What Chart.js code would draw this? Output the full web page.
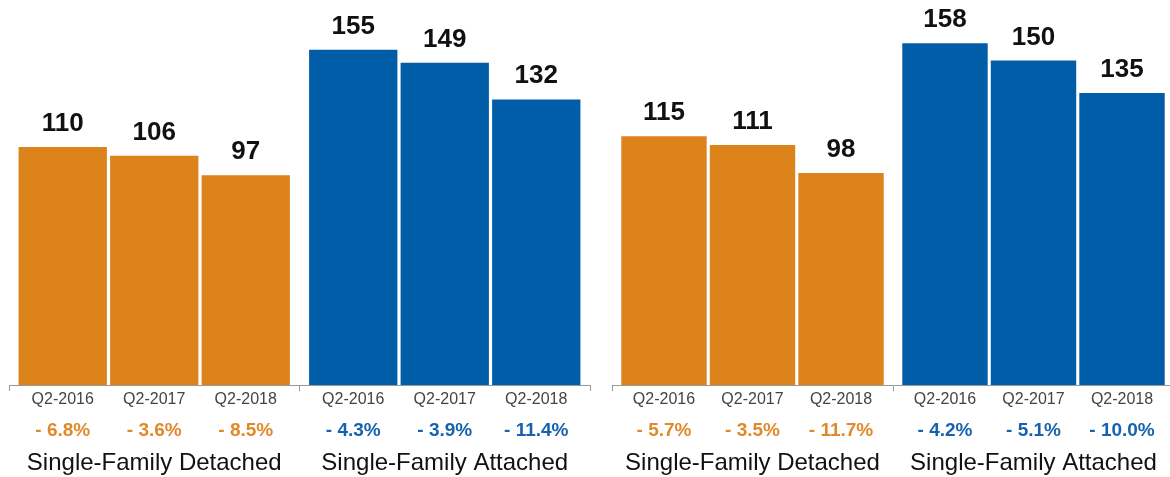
<!DOCTYPE html>
<html>
<head>
<meta charset="utf-8">
<script src="https://cdn.jsdelivr.net/npm/chart.js@4.4.1/dist/chart.umd.min.js"></script>
<style>
    html, body { margin: 0; padding: 0; background: #fff; }
    body { width: 1170px; height: 477px; overflow: hidden; position: relative; }
    .panel { position: absolute; top: 0; height: 477px; }
    #leftPanel { left: 0; width: 600px; }
    #rightPanel { left: 600px; width: 580px; }
</style>
</head>
<body>
<div class="panel" id="leftPanel"><canvas id="leftChart"></canvas></div>
<div class="panel" id="rightPanel"><canvas id="rightChart"></canvas></div>
<script>
// Housing types and the quarters compared in each panel
const categories = ['Single-Family Detached', 'Single-Family Attached'];
const quarters = ['Q2-2016', 'Q2-2017', 'Q2-2018'];

// Left panel values
const leftDetached = [110, 106, 97];
const leftAttached = [155, 149, 132];
const leftDetachedChange = ['- 6.8%', '- 3.6%', '- 8.5%'];
const leftAttachedChange = ['- 4.3%', '- 3.9%', '- 11.4%'];

// Right panel values
const rightDetached = [115, 111, 98];
const rightAttached = [158, 150, 135];
const rightDetachedChange = ['- 5.7%', '- 3.5%', '- 11.7%'];
const rightAttachedChange = ['- 4.2%', '- 5.1%', '- 10.0%'];

const ORANGE = '#DC831C';
const BLUE = '#025DA9';
const ORANGE_TEXT = '#E0892A';
const BLUE_TEXT = '#1563AE';
const FONT = '"Liberation Sans", Arial, Helvetica, sans-serif';

// Value on top of each bar
const valueLabels = {
    id: 'valueLabels',
    afterDatasetsDraw(chart) {
        const ctx = chart.ctx;
        ctx.save();
        ctx.font = `bold 26px ${FONT}`;
        ctx.fillStyle = '#111';
        ctx.textAlign = 'center';
        ctx.textBaseline = 'alphabetic';
        chart.data.datasets.forEach((ds, i) => {
            chart.getDatasetMeta(i).data.forEach((bar, j) => {
                ctx.fillText(ds.data[j], bar.x, bar.y - 16);
            });
        });
        ctx.restore();
    }
};

// Quarter names and yearly change under each bar
const bottomLabels = {
    id: 'bottomLabels',
    afterDraw(chart) {
        const ctx = chart.ctx;
        const bottom = chart.chartArea.bottom;
        const changes = chart.options.plugins.bottomLabels.changes;
        ctx.save();
        ctx.textAlign = 'center';
        ctx.textBaseline = 'middle';
        chart.data.datasets.forEach((ds, i) => {
            chart.getDatasetMeta(i).data.forEach((bar, j) => {
                ctx.font = `16px ${FONT}`;
                ctx.fillStyle = '#444';
                ctx.fillText(ds.label, bar.x, bottom + 15);
                ctx.font = `bold 19px ${FONT}`;
                ctx.fillStyle = j === 0 ? ORANGE_TEXT : BLUE_TEXT;
                ctx.fillText(changes[j][i], bar.x, bottom + 46);
            });
        });
        ctx.restore();
    }
};

const buildChart = (canvasId, detached, attached, changes, padLeft, padRight) => {
    const datasets = quarters.map((q, i) => ({
        label: q,
        data: [detached[i], attached[i]],
        backgroundColor: [ORANGE, BLUE],
        borderWidth: 0,
        categoryPercentage: 0.945,
        barPercentage: 0.965
    }));

    return new Chart(document.getElementById(canvasId), {
        type: 'bar',
        data: { labels: categories, datasets },
        options: {
            responsive: true,
            maintainAspectRatio: false,
            animation: false,
            layout: { padding: { left: padLeft, right: padRight, top: 0, bottom: 0 } },
            plugins: {
                legend: { display: false },
                tooltip: { enabled: false },
                bottomLabels: { changes }
            },
            scales: {
                x: {
                    grid: {
                        offset: true,
                        drawOnChartArea: false,
                        drawTicks: true,
                        tickLength: 6,
                        color: '#999'
                    },
                    border: { color: '#999', width: 1 },
                    ticks: {
                        padding: 58,
                        color: '#111',
                        font: { family: FONT, size: 24 },
                        maxRotation: 0
                    },
                    afterFit: (scale) => {
                        // fixed axis band; the wide labels must not shrink the plot
                        scale.height = 92;
                        scale.paddingLeft = 0;
                        scale.paddingRight = 0;
                    }
                },
                y: {
                    display: false,
                    min: 0,
                    max: 178
                }
            }
        },
        plugins: [valueLabels, bottomLabels]
    });
};

buildChart('leftChart', leftDetached, leftAttached, [leftDetachedChange, leftAttachedChange], 9, 10);
buildChart('rightChart', rightDetached, rightAttached, [rightDetachedChange, rightAttachedChange], 12, 6);
</script>
</body>
</html>
